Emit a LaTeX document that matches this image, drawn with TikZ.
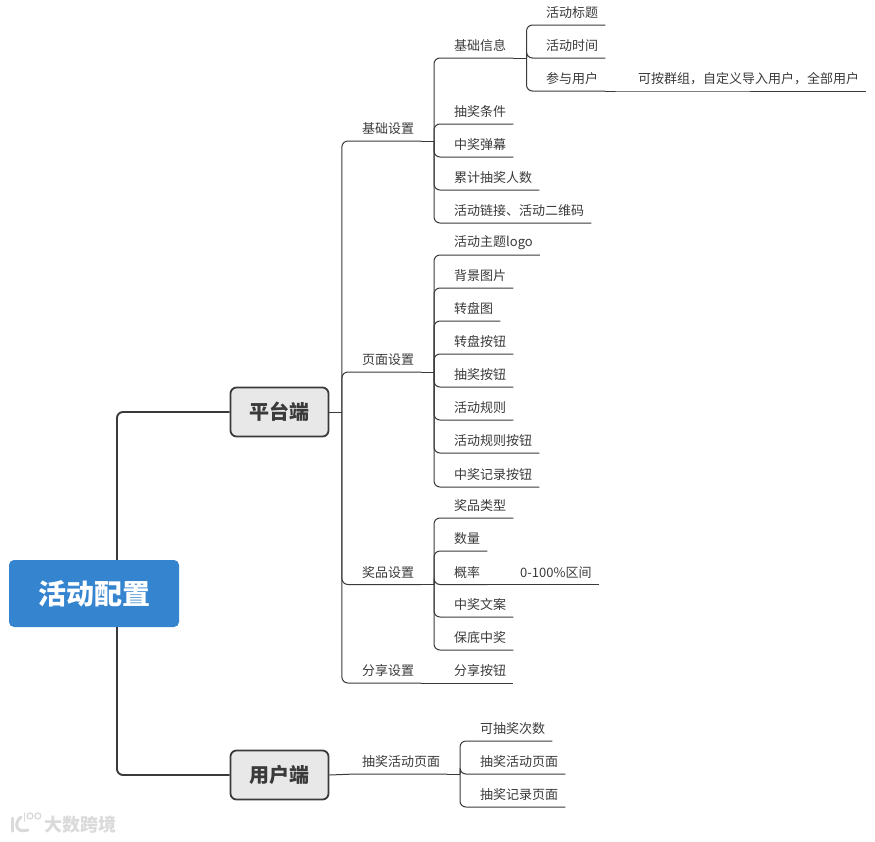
\documentclass[tikz,border=0pt]{standalone}
\usepackage{fontspec}
\setmainfont{Noto Sans CJK SC}
\usetikzlibrary{positioning, calc}
\definecolor{rootcolor}{HTML}{3584CF}
\definecolor{mainfill}{HTML}{E8E8E8}
\definecolor{inkcolor}{HTML}{3A3A3A}
\definecolor{markcolor}{HTML}{DADADA}

\begin{document}
\begin{tikzpicture}[
    x=1pt, y=-1pt,
    rootbox/.style={rectangle, fill=rootcolor, rounded corners=5pt, minimum width=170pt, minimum height=67pt, inner sep=0pt, font=\bfseries\fontsize{28}{28}\selectfont, text=white},
    mainbox/.style={rectangle, draw=inkcolor, line width=1.8pt, fill=mainfill, rounded corners=6pt, minimum width=98pt, minimum height=49pt, inner sep=0pt, font=\bfseries\fontsize{20}{20}\selectfont, text=inkcolor},
    topic/.style={anchor=south west, inner xsep=7pt, inner ysep=0pt, minimum height=24pt, font=\fontsize{13}{13}\selectfont, text=inkcolor},
    trunk/.style={draw=inkcolor, line width=1.9pt, rounded corners=6pt},
    twig/.style={draw=inkcolor, line width=1pt, rounded corners=6pt}
]
\useasboundingbox (0,0) rectangle (875,841);

% -- CENTRE --
\node[rootbox] (root) at (94,593.5) {活动配置};
\node[mainbox] (pingtai) at (279.5,412) {平台端};
\node[mainbox] (yonghu) at (279.5,775) {用户端};

% -- PLATFORM: second level --
\node[topic] (jichu) at (355,141) {基础设置};
\node[topic] (yemian) at (355,372) {页面设置};
\node[topic] (jiangpin) at (355,584.5) {奖品设置};
\node[topic] (fenxiang) at (355,683) {分享设置};

% -- BASIC SETTINGS --
\node[topic] (info) at (447,58) {基础信息};
\node[topic] (tiaojian) at (447,124) {抽奖条件};
\node[topic] (danmu) at (447,157) {中奖弹幕};
\node[topic] (renshu) at (447,190) {累计抽奖人数};
\node[topic] (lianjie) at (447,223) {活动链接、活动二维码};
\node[topic] (biaoti) at (539,25) {活动标题};
\node[topic] (shijian) at (539,58) {活动时间};
\node[topic] (canyu) at (539,91) {参与用户};
\node[topic] (qunzu) at (631,91) {可按群组，自定义导入用户，全部用户};

% -- PAGE SETTINGS --
\node[topic] (logo) at (447,255) {活动主题logo};
\node[topic] (beijing) at (447,288) {背景图片};
\node[topic] (zhuanpan) at (447,321) {转盘图};
\node[topic] (zpbtn) at (447,354) {转盘按钮};
\node[topic] (cjbtn) at (447,387) {抽奖按钮};
\node[topic] (guize) at (447,420) {活动规则};
\node[topic] (gzbtn) at (447,453) {活动规则按钮};
\node[topic] (jlbtn) at (447,487) {中奖记录按钮};

% -- PRIZE SETTINGS --
\node[topic] (leixing) at (447,518) {奖品类型};
\node[topic] (shuliang) at (447,551) {数量};
\node[topic] (gailv) at (447,584.5) {概率};
\node[topic] (qujian) at (513,584.5) {0-100\%区间};
\node[topic] (wenan) at (447,617) {中奖文案};
\node[topic] (baodi) at (447,650) {保底中奖};
\node[topic] (fxbtn) at (447,683) {分享按钮};

% -- USER SIDE --
\node[topic] (huodong) at (355,774) {抽奖活动页面};
\node[topic] (cishu) at (473,741) {可抽奖次数};
\node[topic] (hdpage) at (473,774) {抽奖活动页面};
\node[topic] (jlpage) at (473,807) {抽奖记录页面};

% -- CONNECTORS --
\coordinate (rootspine) at (117,560);
\coordinate (rootspineb) at (117,627);
\draw[trunk] (rootspine) |- (pingtai.west);
\draw[trunk] (rootspineb) |- (yonghu.west);

\coordinate (pfspine) at ($(pingtai.east)+(12.5,0)$);
\draw[twig] (pingtai.east) -- (pfspine);
\foreach \kid in {jichu, yemian, jiangpin, fenxiang}
    \draw[twig] (pfspine) |- (\kid.south west) -- (\kid.south east);

\coordinate (jcspine) at (434,141);
\draw[twig] (jichu.south east) -- (jcspine);
\foreach \kid in {info, tiaojian, danmu, renshu, lianjie}
    \draw[twig] (jcspine) |- (\kid.south west) -- (\kid.south east);

\coordinate (infospine) at (526.5,58);
\draw[twig] (info.south east) -- (infospine);
\foreach \kid in {biaoti, shijian, canyu}
    \draw[twig] (infospine) |- (\kid.south west) -- (\kid.south east);
\draw[twig] (canyu.south east) -- (qunzu.south west) -- (qunzu.south east);

\coordinate (ymspine) at (434,372);
\draw[twig] (yemian.south east) -- (ymspine);
\foreach \kid in {logo, beijing, zhuanpan, zpbtn, cjbtn, guize, gzbtn, jlbtn}
    \draw[twig] (ymspine) |- (\kid.south west) -- (\kid.south east);

\coordinate (jpspine) at (434,584.5);
\draw[twig] (jiangpin.south east) -- (jpspine);
\foreach \kid in {leixing, shuliang, gailv, wenan, baodi}
    \draw[twig] (jpspine) |- (\kid.south west) -- (\kid.south east);
\draw[twig] (gailv.south east) -- (qujian.south west) -- (qujian.south east);

\draw[twig] (fenxiang.south east) -- (fxbtn.south west) -- (fxbtn.south east);

\draw[twig] (yonghu.east) -- (huodong.south west) -- (huodong.south east);
\coordinate (hdspine) at (460,774);
\draw[twig] (huodong.south east) -- (hdspine);
\foreach \kid in {cishu, hdpage, jlpage}
    \draw[twig] (hdspine) |- (\kid.south west) -- (\kid.south east);

% -- WATERMARK --
\node[font=\bfseries\fontsize{18}{18}\selectfont, text=markcolor, anchor=west, inner sep=0pt] (mark) at (44,824.5) {大数跨境};
\node[draw=markcolor, line width=1.3pt, circle, minimum size=6pt, inner sep=0pt] (markdot) at (30,816) {};
\node[draw=markcolor, line width=1.3pt, circle, minimum size=6pt, inner sep=0pt, right=0.5pt of markdot] (markdotb) {};
\draw[draw=markcolor, line width=1.5pt, line cap=round] (24.5,813) -- (24.5,821);
\draw[draw=markcolor, line width=3pt, line cap=round] (12,818) -- (12,831);
\draw[draw=markcolor, line width=3pt, line cap=round] (21,817) .. controls (14,822) and (15,834) .. (28,830);

\end{tikzpicture}
\end{document}
